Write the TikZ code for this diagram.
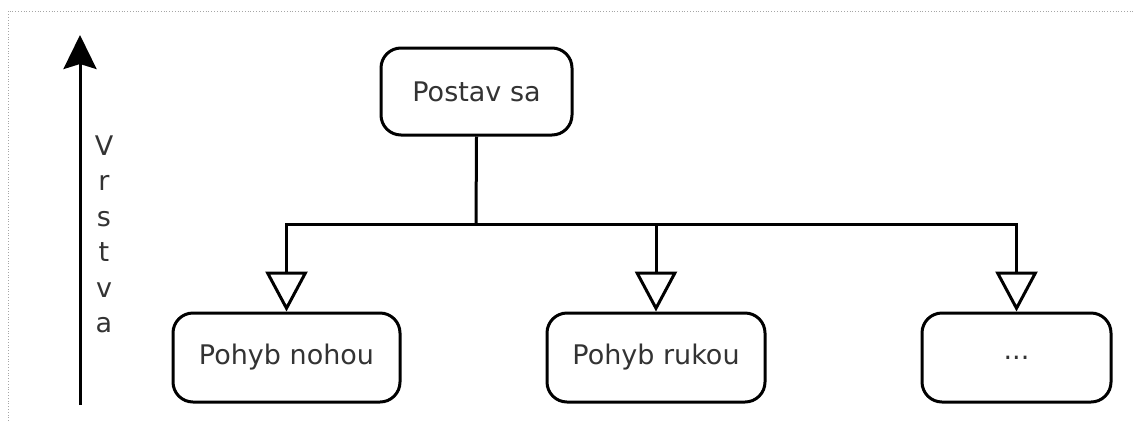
\documentclass[tikz,border=0pt]{standalone}
\usepackage{fontspec}
\setmainfont{DejaVu Sans}
\usetikzlibrary{arrows.meta}
\begin{document}
\begin{tikzpicture}[x=1pt,y=-1pt,
  actionbox/.style={draw=black, line width=3pt, rounded corners=20pt,
    fill=white, inner sep=0pt, font=\fontsize{27}{32}\selectfont,
    text=black!80},
  link/.style={draw=black, line width=3pt},
  inherit/.style={link, -{Triangle[open, width=42pt, length=40pt, line width=3pt, fill=white]}},
  frameline/.style={draw=black!35, line width=0.8pt, dotted}
]
\useasboundingbox (0,0) rectangle (1134,421);

% dotted frame edges
\draw[frameline] (8,421) -- (8,11) -- (1134,11);

% layer axis
\coordinate (axisbottom) at (80,405);
\coordinate (axistop) at (80,35);
\draw[line width=3pt, -{Stealth[width=33pt, length=34pt, inset=5pt]}] (axisbottom) -- (axistop);
\node[font=\fontsize{27}{35.5}\selectfont, text=black!80, align=center, anchor=north]
  (layer) at (104,132) {V\\r\\s\\t\\v\\a};

% action boxes
\node[actionbox, minimum width=191pt, minimum height=87pt] (stand) at (476.5,91.5) {Postav sa};
\node[actionbox, minimum width=227pt, minimum height=89pt] (leg) at (286.5,357.5) {Pohyb nohou};
\node[actionbox, minimum width=218pt, minimum height=89pt] (arm) at (656,357.5) {Pohyb rukou};
\node[actionbox, minimum width=189pt, minimum height=89pt] (more) at (1016.5,357.5) {...};

% connectors
\coordinate (bus) at (476,224);
\draw[link] (stand.south) -- (bus);
\draw[inherit] (bus) -| (leg.north);
\draw[inherit] (bus) -| (arm.north);
\draw[inherit] (bus) -| (more.north);
\end{tikzpicture}
\end{document}
